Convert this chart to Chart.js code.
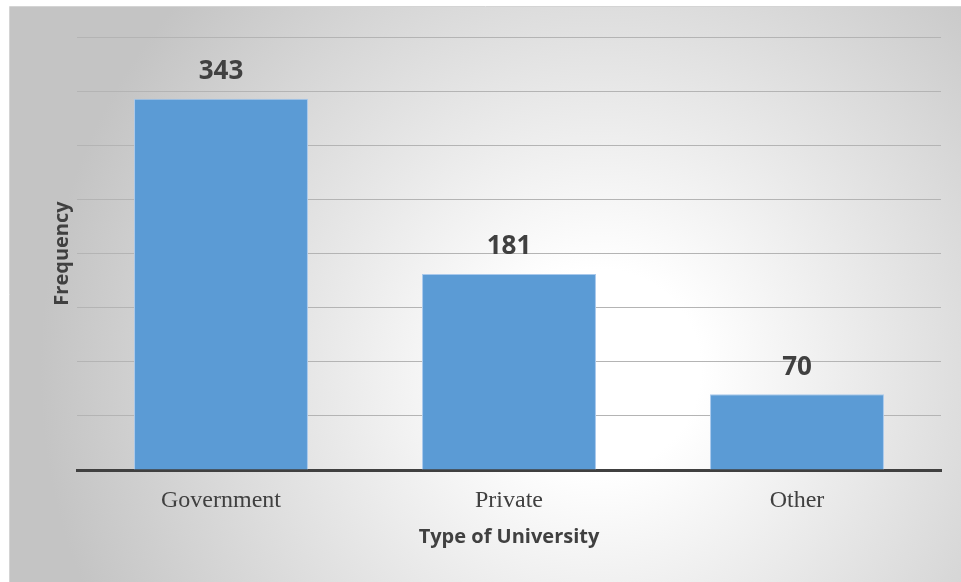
<!DOCTYPE html>
<html>
<head>
<meta charset="utf-8">
<script src="https://cdn.jsdelivr.net/npm/chart.js@4"></script>
<style>
html,body{margin:0;padding:0;background:#fff;}
#wrap{position:absolute;left:0;top:0;width:961px;height:582px;}
</style>
</head>
<body>
<div id="wrap"><canvas id="c"></canvas></div>
<script>
const categories = ["Government", "Private", "Other"];
const frequencies = [343, 181, 70];
const xTitle = "Type of University";
const yTitle = "Frequency";

const bgPlugin = {
  id: 'bg',
  beforeDraw(chart) {
    const ctx = chart.ctx;
    ctx.save();
    ctx.fillStyle = '#ffffff';
    ctx.fillRect(0, 0, chart.width, chart.height);
    const g = ctx.createRadialGradient(600, 370, 0, 600, 370, 560);
    g.addColorStop(0, '#ffffff');
    g.addColorStop(0.18, '#ffffff');
    g.addColorStop(1, '#c4c4c4');
    ctx.fillStyle = g;
    ctx.fillRect(10, 7, 951, 575);
    ctx.strokeStyle = '#d4d4d4';
    ctx.lineWidth = 1;
    ctx.beginPath();
    ctx.moveTo(9.5, 582);
    ctx.lineTo(9.5, 6.5);
    ctx.lineTo(961, 6.5);
    ctx.stroke();
    ctx.restore();
  }
};

const labelPlugin = {
  id: 'vals',
  afterDatasetsDraw(chart) {
    const ctx = chart.ctx;
    const meta = chart.getDatasetMeta(0);
    ctx.save();
    ctx.font = 'bold 26px "Open Sans"';
    ctx.fillStyle = '#404040';
    ctx.textAlign = 'center';
    ctx.textBaseline = 'middle';
    meta.data.forEach((bar, i) => {
      ctx.fillText(String(frequencies[i]), bar.x, bar.y - 27);
    });
    ctx.restore();
  }
};

new Chart(document.getElementById('c'), {
  type: 'bar',
  data: {
    labels: categories,
    datasets: [{
      data: frequencies,
      backgroundColor: '#5B9BD5',
      borderColor: '#a9c9ec',
      borderWidth: 1,
      barPercentage: 1,
      categoryPercentage: 0.604
    }]
  },
  options: {
    responsive: true,
    maintainAspectRatio: false,
    animation: false,
    layout: { padding: { left: 10, right: 20, top: 37, bottom: 0 } },
    plugins: { legend: { display: false }, tooltip: { enabled: false } },
    scales: {
      x: {
        grid: { display: false, drawTicks: false },
        border: { display: true, color: '#404040', width: 3 },
        ticks: { color: '#404040', font: { family: '"Liberation Serif"', size: 24 }, padding: 16 },
        title: { display: true, text: xTitle, color: '#404040', font: { family: '"Open Sans"', size: 20, weight: 'bold' }, padding: { top: 0, bottom: 33 } },
        afterFit(s) { s.height = 112; }
      },
      y: {
        min: 0, max: 400,
        ticks: { stepSize: 50, display: false },
        grid: { color: '#b4b4b4', lineWidth: 1, drawTicks: false },
        border: { display: false },
        title: { display: true, text: yTitle, color: '#404040', font: { family: '"Open Sans"', size: 20, weight: 'bold' }, padding: { top: 40, bottom: 0 } },
        afterFit(s) { s.width = 67; }
      }
    }
  },
  plugins: [bgPlugin, labelPlugin]
});
</script>
</body>
</html>
